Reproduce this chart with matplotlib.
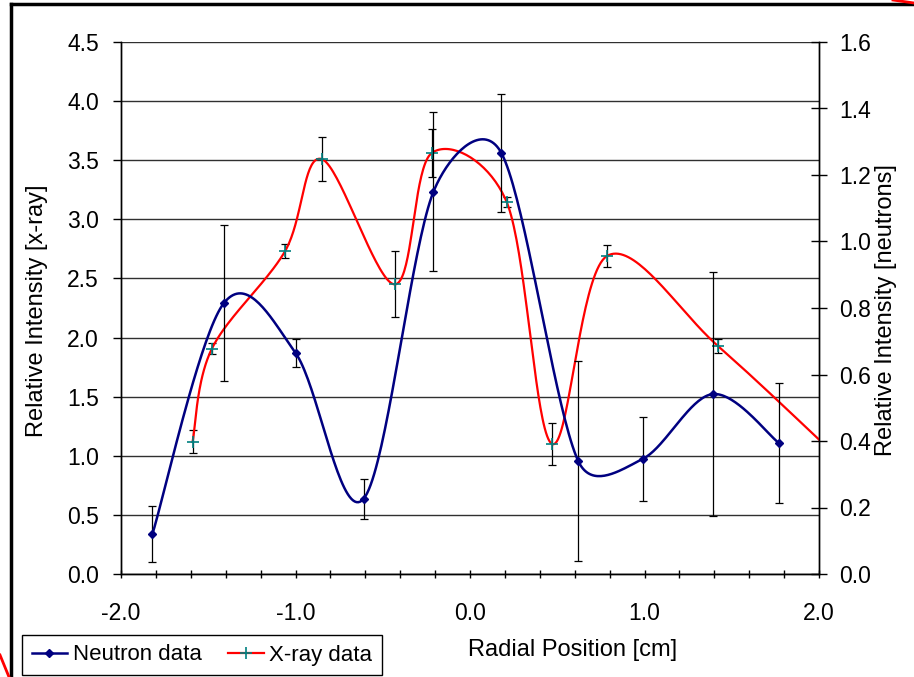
import numpy as np
import matplotlib
matplotlib.use("Agg")
import matplotlib.pyplot as plt
from matplotlib.lines import Line2D
from matplotlib.ticker import MultipleLocator, FormatStrFormatter

plt.rcParams['font.family'] = ['Liberation Sans', 'DejaVu Sans']

# neutron data, right axis
neutron_x = [-1.82, -1.41, -1.00, -0.61, -0.21, 0.18, 0.62, 0.99, 1.39, 1.77]
neutron_y = [0.12, 0.815, 0.665, 0.226, 1.149, 1.266, 0.34, 0.346, 0.541, 0.394]
neutron_err = [0.084, 0.236, 0.042, 0.06, 0.239, 0.177, 0.30, 0.125, 0.367, 0.18]

# x-ray data, left axis (last point lies just past the plot edge)
xray_x = [-1.59, -1.48, -1.06, -0.85, -0.43, -0.22, 0.21, 0.47, 0.785, 1.42, 2.12]
xray_y = [1.117, 1.904, 2.73, 3.51, 2.45, 3.56, 3.147, 1.10, 2.69, 1.93, 0.97]
xray_err = [0.097, 0.047, 0.06, 0.186, 0.28, 0.2, 0.04, 0.18, 0.09, 0.06, 0.0]

W, H = 914, 677


def smooth(a, x, y, n=40):
    # excel style smoothed line: bezier through the points, done in pixel space,
    # control arms capped at half of the segment length
    tr = a.transData
    p = tr.transform(np.column_stack([x, y]))
    pts = [p[0]]
    t = np.linspace(0, 1, n)[1:, None]
    for i in range(len(p) - 1):
        p0 = p[i - 1] if i > 0 else p[i]
        p1 = p[i]
        p2 = p[i + 1]
        p3 = p[i + 2] if i + 2 < len(p) else p[i + 1]
        chord = np.hypot(*(p2 - p1))
        v1 = (p2 - p0) / 6
        v2 = (p3 - p1) / 6
        for v in (v1, v2):
            ln = np.hypot(*v)
            if ln > 0.5 * chord:
                v *= 0.5 * chord / ln
        c1 = p1 + v1
        c2 = p2 - v2
        seg = (1 - t)**3 * p1 + 3 * (1 - t)**2 * t * c1 + 3 * (1 - t) * t**2 * c2 + t**3 * p2
        pts.extend(seg)
    pts = tr.inverted().transform(np.array(pts))
    return pts[:, 0], pts[:, 1]


fig = plt.figure(figsize=(W / 100, H / 100), dpi=100)
ax = fig.add_axes([121 / W, 1 - 574 / H, 698 / W, 532 / H])
ax2 = ax.twinx()

ax.set_xlim(-2, 2)
ax.set_ylim(0, 4.5)
ax2.set_ylim(0, 1.6)

ax.yaxis.grid(True, color='#303030', lw=1.0)
ax.set_axisbelow(True)

# x-ray
ax.errorbar(xray_x, xray_y, yerr=xray_err, fmt='none', ecolor='black',
            elinewidth=0.9, capsize=3, capthick=0.9, zorder=2)
sx, sy = smooth(ax, xray_x, xray_y)
ax.plot(sx, sy, color='red', lw=1.6, zorder=3)
ax.plot(xray_x, xray_y, ls='none', marker='+', ms=8, mew=1.2, color='#008080', zorder=4)

# neutrons
ax2.errorbar(neutron_x, neutron_y, yerr=neutron_err, fmt='none', ecolor='black',
             elinewidth=0.9, capsize=3, capthick=0.9, zorder=2)
nx, ny = smooth(ax2, neutron_x, neutron_y)
ax2.plot(nx, ny, color='#000080', lw=1.8, zorder=3)
ax2.plot(neutron_x, neutron_y, ls='none', marker='D', ms=4, color='#000080', zorder=4)

ax.xaxis.set_major_locator(MultipleLocator(1.0))
ax.xaxis.set_minor_locator(MultipleLocator(0.2))
ax.xaxis.set_major_formatter(FormatStrFormatter('%.1f'))
ax.yaxis.set_major_locator(MultipleLocator(0.5))
ax.yaxis.set_major_formatter(FormatStrFormatter('%.1f'))
ax2.yaxis.set_major_locator(MultipleLocator(0.2))
ax2.yaxis.set_major_formatter(FormatStrFormatter('%.1f'))

ax.tick_params(axis='x', which='both', direction='inout', length=6, width=1, pad=17, labelsize=16.5)
ax.tick_params(axis='y', direction='out', length=6, width=1, pad=10, labelsize=16.5)
ax2.tick_params(axis='y', direction='inout', length=11.5, width=1, pad=9, labelsize=16.5)

for a in (ax, ax2):
    a.spines['top'].set_visible(False)
    for s in ('left', 'right', 'bottom'):
        a.spines[s].set_linewidth(1.0)
        a.spines[s].set_color('black')

fig.text(573 / W, 1 - 650 / H, 'Radial Position [cm]', ha='center', va='center', fontsize=17)
fig.text(37 / W, 1 - 311 / H, 'Relative Intensity [x-ray]', rotation=90,
         ha='center', va='center', fontsize=17)
fig.text(886 / W, 1 - 310 / H, 'Relative Intensity [neutrons]', rotation=90,
         ha='center', va='center', fontsize=17)

handles = [Line2D([], [], color='#000080', lw=1.8, marker='D', ms=4),
           Line2D([], [], color='red', lw=1.6, marker='+', ms=8, mew=1.2, mec='#008080')]
leg = fig.legend(handles, ['Neutron data', 'X-ray data'], loc='center',
                 bbox_to_anchor=(202 / W, 1 - 655 / H), ncol=2, frameon=True,
                 fancybox=False, edgecolor='black', framealpha=1, fontsize=16,
                 handlelength=1.6, handletextpad=0.25, columnspacing=1.2,
                 borderpad=0.42, borderaxespad=0)
leg.get_frame().set_linewidth(1.0)

# outer chart border and stray bits of the page behind it
fig.add_artist(Line2D([11 / W, 11 / W], [0, 1 - 4 / H], color='black', lw=2.5,
                      transform=fig.transFigure))
fig.add_artist(Line2D([11 / W, 1], [1 - 4 / H, 1 - 4 / H], color='black', lw=2.5,
                      transform=fig.transFigure))
fig.add_artist(Line2D([0, 9 / W], [1 - 655 / H, 0], color='red', lw=2,
                      transform=fig.transFigure))
fig.add_artist(Line2D([893 / W, 1], [1, 1 - 3 / H], color='red', lw=2,
                      transform=fig.transFigure))

fig.savefig('out.png', dpi=100)
